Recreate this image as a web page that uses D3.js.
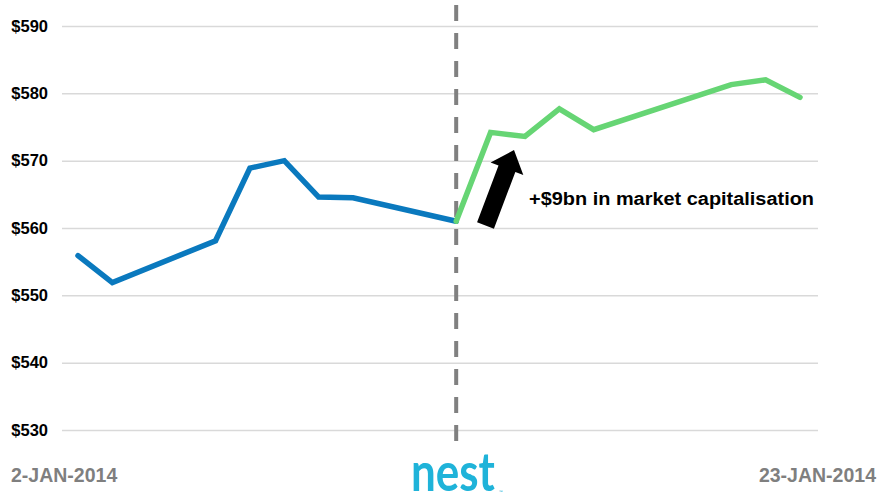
<!DOCTYPE html>
<html>
<head>
<meta charset="utf-8">
<script src="https://cdn.jsdelivr.net/npm/d3@7"></script>
<style>
  html, body { margin: 0; padding: 0; background: #fff; }
  svg { display: block; }
</style>
</head>
<body>
<svg id="chart" width="884" height="502"></svg>
<script>
// ---- data ----
const beforeDates = ["2014-01-02","2014-01-03","2014-01-06","2014-01-07","2014-01-08","2014-01-09","2014-01-10","2014-01-13"];
const beforePrices = [555.9, 551.9, 558.1, 568.9, 570.0, 564.6, 564.5, 561.0];
const afterDates = ["2014-01-13","2014-01-14","2014-01-15","2014-01-16","2014-01-17","2014-01-21","2014-01-22","2014-01-23"];
const afterPrices = [561.0, 574.2, 573.6, 577.7, 574.6, 581.3, 582.0, 579.4];
const yTicks = [530, 540, 550, 560, 570, 580, 590];
const startLabel = "2-JAN-2014";
const endLabel = "23-JAN-2014";
const eventDate = "2014-01-13";
const annotation = "+$9bn in market capitalisation";
const logoText = "nest";

const parse = d3.timeParse("%Y-%m-%d");
const svg = d3.select("#chart");

const x = d3.scaleTime()
  .domain([parse("2014-01-02"), parse("2014-01-23")])
  .range([78, 800]);
const y = d3.scaleLinear().domain([530, 590]).range([430, 26]);

// gridlines + y labels
const yAxis = d3.axisLeft(y).tickValues(yTicks).tickSize(-756).tickPadding(14)
  .tickFormat(d => "$" + d);
const gy = svg.append("g").attr("transform", "translate(62,0)").call(yAxis);
gy.select(".domain").remove();
gy.selectAll(".tick line").attr("stroke", "#d9d9d9").attr("stroke-width", 1.5);
gy.selectAll(".tick text")
  .attr("fill", "#000")
  .style("font-family", "'Liberation Sans', Arial, sans-serif")
  .style("font-weight", "bold")
  .style("font-size", "16.5px");

// dashed event line
svg.append("line")
  .attr("x1", x(parse(eventDate))).attr("x2", x(parse(eventDate)))
  .attr("y1", 5).attr("y2", 445)
  .attr("stroke", "#808080").attr("stroke-width", 4)
  .attr("stroke-dasharray", "16,12");

const line = d3.line().x(d => x(d[0])).y(d => y(d[1]));
const before = beforeDates.map((d, i) => [parse(d), beforePrices[i]]);
const after = afterDates.map((d, i) => [parse(d), afterPrices[i]]);

svg.append("path").datum(before).attr("d", line)
  .attr("fill", "none").attr("stroke", "#0a79be").attr("stroke-width", 5.5)
  .attr("stroke-linejoin", "miter").attr("stroke-linecap", "round");
svg.append("path").datum(after).attr("d", line)
  .attr("fill", "none").attr("stroke", "#66d574").attr("stroke-width", 5.5)
  .attr("stroke-linejoin", "miter").attr("stroke-linecap", "round");

// arrow
(function () {
  const bx = 485.5, by = 225.5, tx = 514, ty = 150;
  const dx = tx - bx, dy = ty - by, L = Math.hypot(dx, dy);
  const ux = dx / L, uy = dy / L, nx = -uy, ny = ux;
  const sw = 9, hw = 17.5, hl = 20;
  const hx = tx - ux * hl, hy = ty - uy * hl;
  const pts = [
    [bx + nx * sw, by + ny * sw],
    [hx + nx * sw, hy + ny * sw],
    [hx + nx * hw, hy + ny * hw],
    [tx, ty],
    [hx - nx * hw, hy - ny * hw],
    [hx - nx * sw, hy - ny * sw],
    [bx - nx * sw, by - ny * sw]
  ];
  svg.append("polygon").attr("points", pts.map(p => p.join(",")).join(" "))
    .attr("fill", "#000");
})();

svg.append("text").attr("x", 529).attr("y", 205)
  .attr("textLength", 285).attr("lengthAdjust", "spacingAndGlyphs")
  .style("font-family", "'Liberation Sans', Arial, sans-serif")
  .style("font-weight", "bold").style("font-size", "18px")
  .attr("fill", "#000").text(annotation);

// bottom date labels
svg.append("text").attr("x", 11).attr("y", 482)
  .style("font-family", "'Liberation Sans', Arial, sans-serif")
  .style("font-weight", "bold").style("font-size", "19.5px")
  .attr("fill", "#7f7f7f").text(startLabel);
svg.append("text").attr("x", 876).attr("y", 482).attr("text-anchor", "end")
  .style("font-family", "'Liberation Sans', Arial, sans-serif")
  .style("font-weight", "bold").style("font-size", "19.5px")
  .attr("fill", "#7f7f7f").text(endLabel);

// nest logo
svg.append("g").attr("transform", "translate(411,491) scale(1,1.2)")
  .append("text").attr("x", 0).attr("y", 0)
  .style("font-family", "Lato, 'Open Sans', sans-serif")
  .style("font-weight", "700").style("font-size", "44px")
  .attr("fill", "#1fb3d9").text(logoText);
svg.append("text").attr("x", 499).attr("y", 494)
  .style("font-family", "Lato, sans-serif")
  .style("font-size", "5px")
  .attr("fill", "#1fb3d9").text("™");
</script>
</body>
</html>
